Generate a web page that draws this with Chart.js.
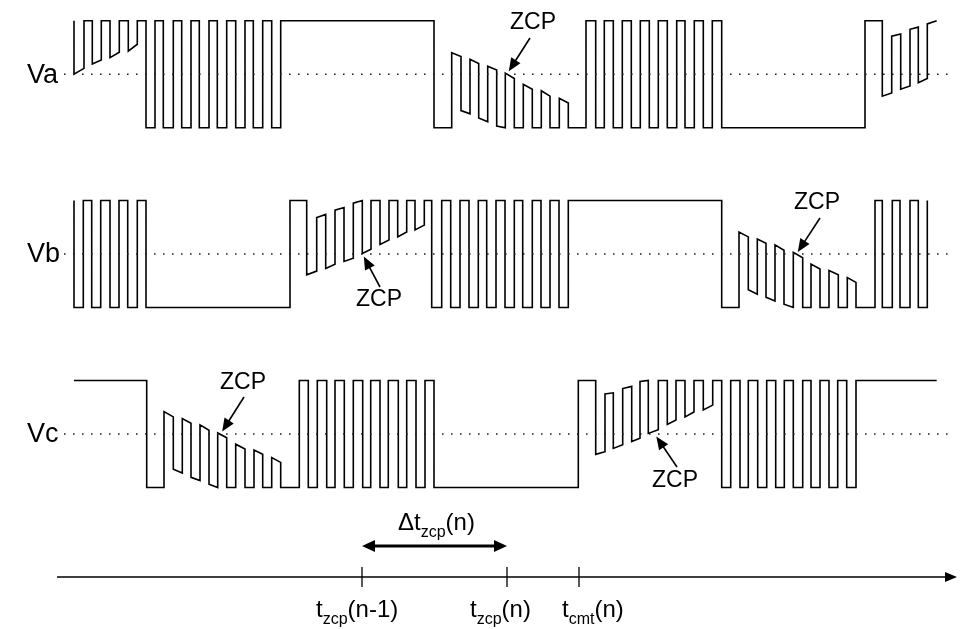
<!DOCTYPE html>
<html>
<head>
<meta charset="utf-8">
<script src="https://cdn.jsdelivr.net/npm/chart.js@4.4.0/dist/chart.umd.min.js"></script>
<style>
  html, body { margin: 0; padding: 0; background: #fff; }
  #chart { display: block; }
</style>
</head>
<body>
<canvas id="chart" width="960" height="629"></canvas>
<script>
// phase voltages as [time, level]; level 1 = high rail, -1 = low rail, 0 = neutral point
const vaWave = [
  [74, 1], [74, 0], [84, 0.11], [84, 1], [92.3, 1], [92.3, 0.19], [101.3, 0.265], [101.3, 1],
  [110, 1], [110, 0.31], [119.3, 0.41], [119.3, 1], [128.3, 1], [128.3, 0.43], [137.3, 0.56], [137.3, 1],
  [146, 1], [146, -1],
  [155, -1], [155, 1], [163.3, 1], [163.3, -1], [173.3, -1], [173.3, 1], [181.7, 1], [181.7, -1],
  [191, -1], [191, 1], [199.3, 1], [199.3, -1], [209, -1], [209, 1], [217.3, 1], [217.3, -1],
  [226.7, -1], [226.7, 1], [235.7, 1], [235.7, -1], [245, -1], [245, 1], [253.3, 1], [253.3, -1],
  [262.7, -1], [262.7, 1], [271.7, 1], [271.7, -1], [280.7, -1], [280.7, 1],
  [434, 1], [434, -1], [451.7, -1],
  [451.7, 0.40], [461, 0.33], [461, -0.68], [470, -0.74], [470, 0.28], [478.7, 0.20], [478.7, -0.82],
  [487.7, -0.89], [487.7, 0.15], [496.7, 0.08], [496.7, -0.97], [505.3, -1], [505.3, 0.02], [514.3, -0.08],
  [514.3, -1], [523.3, -1], [523.3, -0.19], [532.3, -0.28], [532.3, -1], [541.3, -1], [541.3, -0.31],
  [550, -0.41], [550, -1], [559.3, -1], [559.3, -0.45], [568.3, -0.54], [568.3, -1],
  [586, -1], [586, 1], [595.7, 1], [595.7, -1], [604.3, -1], [604.3, 1], [613.3, 1], [613.3, -1],
  [622.3, -1], [622.3, 1], [631.3, 1], [631.3, -1], [640.3, -1], [640.3, 1], [649.3, 1], [649.3, -1],
  [658.3, -1], [658.3, 1], [667.3, 1], [667.3, -1], [676.7, -1], [676.7, 1], [685, 1], [685, -1],
  [694.3, -1], [694.3, 1], [703.3, 1], [703.3, -1], [712.3, -1], [712.3, 1], [721.7, 1], [721.7, -1],
  [865, -1], [865, 1], [882.3, 1],
  [882.3, -0.41], [891.7, -0.35], [891.7, 0.71], [900.7, 0.75], [900.7, -0.28], [910, -0.22],
  [910, 0.84], [918.3, 0.88], [918.3, -0.16], [927.3, -0.08], [927.3, 0.94], [936.7, 1]
];

const vbWave = [
  [74, 1], [74, -1], [83.3, -1], [83.3, 1], [91.7, 1], [91.7, -1], [100.7, -1], [100.7, 1],
  [110, 1], [110, -1], [119, -1], [119, 1], [127.7, 1], [127.7, -1], [137.3, -1], [137.3, 1],
  [146, 1], [146, -1],
  [290, -1], [290, 1], [306.7, 1],
  [306.7, -0.39], [316.7, -0.32], [316.7, 0.68], [325.7, 0.74], [325.7, -0.27], [335, -0.19],
  [335, 0.82], [344, 0.87], [344, -0.14], [353.3, -0.08], [353.3, 0.95], [362.3, 1], [362.3, 0.01],
  [371, 0.09], [371, 1], [380, 1], [380, 0.18], [389, 0.26], [389, 1], [397.7, 1], [397.7, 0.32],
  [406.7, 0.41], [406.7, 1], [415, 1], [415, 0.45], [424.3, 0.54], [424.3, 1], [431.7, 1], [431.7, -1],
  [441.7, -1], [441.7, 1], [450.7, 1], [450.7, -1], [460, -1], [460, 1], [469, 1], [469, -1],
  [478.3, -1], [478.3, 1], [486.7, 1], [486.7, -1], [496, -1], [496, 1], [505, 1], [505, -1],
  [514.3, -1], [514.3, 1], [522.7, 1], [522.7, -1], [532.3, -1], [532.3, 1], [541, 1], [541, -1],
  [550, -1], [550, 1], [559, 1], [559, -1], [568.3, -1], [568.3, 1],
  [721.7, 1], [721.7, -1], [739, -1],
  [739, 0.41], [748.3, 0.32], [748.3, -0.67], [757.3, -0.75], [757.3, 0.28], [766, 0.20], [766, -0.81],
  [775, -0.88], [775, 0.17], [784, 0.07], [784, -0.94], [793.3, -1], [793.3, 0.03], [802.7, -0.07],
  [802.7, -1], [811, -1], [811, -0.19], [820, -0.28], [820, -1], [829, -1], [829, -0.31],
  [838.3, -0.39], [838.3, -1], [847.3, -1], [847.3, -0.44], [856, -0.53], [856, -1],
  [875, -1], [875, 1], [882.3, 1], [882.3, -1], [892.3, -1], [892.3, 1], [900, 1], [900, -1],
  [910, -1], [910, 1], [918.3, 1], [918.3, -1], [927.3, -1], [927.3, 1]
];

const vcWave = [
  [74, 1], [146.7, 1], [146.7, -1], [164, -1],
  [164, 0.42], [173.3, 0.32], [173.3, -0.66], [182.3, -0.73], [182.3, 0.29], [191, 0.20], [191, -0.81],
  [200, -0.87], [200, 0.17], [209, 0.07], [209, -0.94], [217.7, -1], [217.7, 0.02], [226.7, -0.07],
  [226.7, -1], [235.7, -1], [235.7, -0.19], [245, -0.28], [245, -1], [254, -1], [254, -0.30],
  [262.7, -0.38], [262.7, -1], [271.7, -1], [271.7, -0.44], [280.7, -0.53], [280.7, -1],
  [299.3, -1], [299.3, 1], [308.3, 1], [308.3, -1], [317.3, -1], [317.3, 1], [326.7, 1], [326.7, -1],
  [335, -1], [335, 1], [344.3, 1], [344.3, -1], [353.3, -1], [353.3, 1], [362.7, 1], [362.7, -1],
  [370.7, -1], [370.7, 1], [380, 1], [380, -1], [388.3, -1], [388.3, 1], [398.3, 1], [398.3, -1],
  [406.7, -1], [406.7, 1], [416, 1], [416, -1], [425, -1], [425, 1], [434, 1], [434, -1],
  [578.3, -1], [578.3, 1], [595.7, 1],
  [595.7, -0.38], [605, -0.33], [605, 0.75], [613.3, 0.77], [613.3, -0.27], [622.7, -0.20],
  [622.7, 0.85], [631.7, 0.89], [631.7, -0.14], [640, -0.08], [640, 0.98], [648.3, 1], [648.3, 0.01],
  [658.3, 0.08], [658.3, 1], [667.3, 1], [667.3, 0.18], [676, 0.26], [676, 1], [685, 1], [685, 0.32],
  [694, 0.41], [694, 1], [703.3, 1], [703.3, 0.45], [712.7, 0.54], [712.7, 1], [721.7, 1], [721.7, -1],
  [730.7, -1], [730.7, 1], [740, 1], [740, -1], [748.3, -1], [748.3, 1], [757.7, 1], [757.7, -1],
  [766.7, -1], [766.7, 1], [775.7, 1], [775.7, -1], [784.3, -1], [784.3, 1], [793.3, 1], [793.3, -1],
  [802.7, -1], [802.7, 1], [811, 1], [811, -1], [820, -1], [820, 1], [829, 1], [829, -1],
  [837.7, -1], [837.7, 1], [846.7, 1], [846.7, -1], [856, -1], [856, 1],
  [936.7, 1]
];

const phaseNames = ['Va', 'Vb', 'Vc'];
// zero crossing points: [phase, time]
const zcpPoints = [[0, 505.3], [1, 362.3], [1, 793.3], [2, 217.7], [2, 648.3]];
const timeMarks = [362, 507, 579];
const timeLabels = [['t', 'zcp', '(n-1)'], ['t', 'zcp', '(n)'], ['t', 'cmt', '(n)']];
const deltaLabel = ['\u0394t', 'zcp', '(n)'];

// layout (canvas units)
const PHASE_Y = [74.2, 254, 434];
const AMP = 53.5;
const DOT_X = [64, 955];
const AXIS_Y = 577;
const AXIS_X = [57, 957];
const DELTA_Y = 546;
const FONT = '"Liberation Sans", Arial, sans-serif';
// ZCP callouts: text centre, arrow tail, tip offset from the crossing point
const zcpLayout = [
  { text: [533, 23], tail: [530, 38], tip: [3.5, -3] },
  { text: [379, 300], tail: [380, 287], tip: [1.5, 2.5] },
  { text: [817, 203], tail: [820, 218], tip: [4.5, -2] },
  { text: [243, 383], tail: [244, 397], tip: [4.5, -2.5] },
  { text: [675, 481], tail: [677, 467], tip: [8, 2.5] }
];
const timeLabelX = [316, 470, 562];

const waves = [vaWave, vbWave, vcWave];
const datasets = [];
waves.forEach((w, k) => {
  datasets.push({
    data: [{ x: DOT_X[0], y: PHASE_Y[k] }, { x: DOT_X[1], y: PHASE_Y[k] }],
    borderColor: '#222', borderWidth: 1.6, borderDash: [1.6, 7.4]
  });
  datasets.push({
    data: w.map(([t, v]) => ({ x: t, y: PHASE_Y[k] - AMP * v })),
    borderColor: '#000', borderWidth: 1.6
  });
});

function arrowHead(ctx, fx, fy, tx, ty, len, half) {
  const a = Math.atan2(ty - fy, tx - fx);
  const bx = tx - len * Math.cos(a), by = ty - len * Math.sin(a);
  ctx.beginPath();
  ctx.moveTo(tx, ty);
  ctx.lineTo(bx + half * Math.sin(a), by - half * Math.cos(a));
  ctx.lineTo(bx - half * Math.sin(a), by + half * Math.cos(a));
  ctx.closePath();
  ctx.fill();
}

function subText(ctx, x, y, parts, size) {
  ctx.textAlign = 'left';
  ctx.textBaseline = 'alphabetic';
  ctx.font = size + 'px ' + FONT;
  ctx.fillText(parts[0], x, y);
  let w = ctx.measureText(parts[0]).width;
  ctx.font = Math.round(size * 0.66) + 'px ' + FONT;
  ctx.fillText(parts[1], x + w, y + size * 0.28);
  w += ctx.measureText(parts[1]).width;
  ctx.font = size + 'px ' + FONT;
  ctx.fillText(parts[2], x + w, y);
}

const overlay = {
  id: 'overlay',
  afterDatasetsDraw(chart) {
    const { ctx, scales: { x, y } } = chart;
    ctx.save();
    ctx.fillStyle = '#000';
    ctx.strokeStyle = '#000';

    ctx.font = '27px ' + FONT;
    ctx.textAlign = 'left';
    ctx.textBaseline = 'middle';
    phaseNames.forEach((n, k) => ctx.fillText(n, 27, y.getPixelForValue(PHASE_Y[k]) + 1));

    zcpPoints.forEach(([k, t], i) => {
      const L = zcpLayout[i];
      const tx = x.getPixelForValue(t + L.tip[0]);
      const ty = y.getPixelForValue(PHASE_Y[k] + L.tip[1]);
      const fx = x.getPixelForValue(L.tail[0]);
      const fy = y.getPixelForValue(L.tail[1]);
      const a = Math.atan2(ty - fy, tx - fx);
      ctx.lineWidth = 1.6;
      ctx.beginPath();
      ctx.moveTo(fx, fy);
      ctx.lineTo(tx - 10 * Math.cos(a), ty - 10 * Math.sin(a));
      ctx.stroke();
      arrowHead(ctx, fx, fy, tx, ty, 13, 5.5);
      ctx.font = '23px ' + FONT;
      ctx.textAlign = 'center';
      ctx.textBaseline = 'middle';
      ctx.fillText('ZCP', x.getPixelForValue(L.text[0]), y.getPixelForValue(L.text[1]));
    });

    // time axis
    const ay = y.getPixelForValue(AXIS_Y);
    const ax0 = x.getPixelForValue(AXIS_X[0]), ax1 = x.getPixelForValue(AXIS_X[1]);
    ctx.lineWidth = 1.3;
    ctx.beginPath();
    ctx.moveTo(ax0, ay);
    ctx.lineTo(ax1 - 8, ay);
    ctx.stroke();
    arrowHead(ctx, ax0, ay, ax1, ay, 12, 5);
    timeMarks.forEach(t => {
      const px = x.getPixelForValue(t);
      ctx.beginPath();
      ctx.moveTo(px, ay - 10);
      ctx.lineTo(px, ay + 10);
      ctx.stroke();
    });

    // delta arrow
    const dy = y.getPixelForValue(DELTA_Y);
    const d0 = x.getPixelForValue(timeMarks[0]), d1 = x.getPixelForValue(timeMarks[1]);
    ctx.lineWidth = 3;
    ctx.beginPath();
    ctx.moveTo(d0 + 8, dy);
    ctx.lineTo(d1 - 8, dy);
    ctx.stroke();
    arrowHead(ctx, d1, dy, d0, dy, 13, 6);
    arrowHead(ctx, d0, dy, d1, dy, 13, 6);
    subText(ctx, 398, 530, deltaLabel, 24);

    timeLabels.forEach((p, i) => subText(ctx, timeLabelX[i], 617, p, 24));
    ctx.restore();
  }
};

new Chart(document.getElementById('chart'), {
  type: 'scatter',
  data: { datasets: datasets.map(d => Object.assign({ showLine: true, pointRadius: 0, tension: 0, fill: false }, d)) },
  options: {
    responsive: false,
    animation: false,
    events: [],
    layout: { padding: 0 },
    scales: {
      x: { type: 'linear', min: 0, max: 960, display: false },
      y: { type: 'linear', min: 0, max: 629, reverse: true, display: false }
    },
    plugins: { legend: { display: false }, tooltip: { enabled: false } }
  },
  plugins: [overlay]
});
</script>
</body>
</html>
